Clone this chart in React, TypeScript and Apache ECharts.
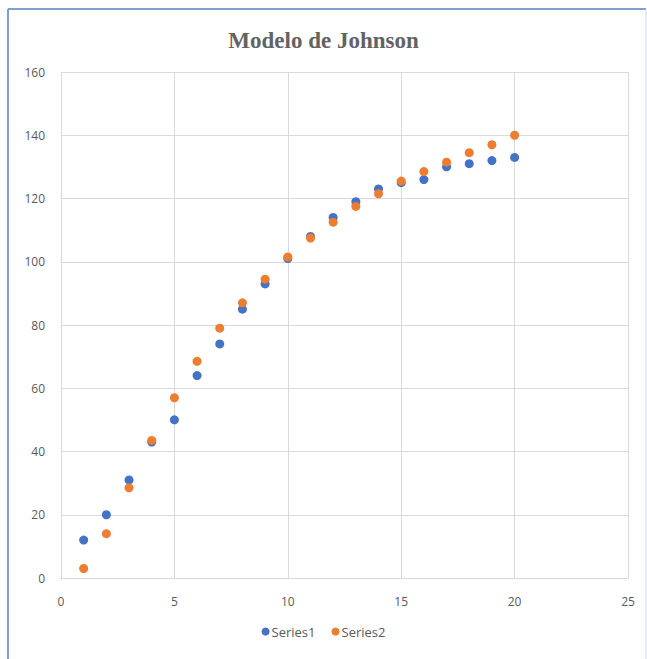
import React, { useEffect, useRef } from "react";
import * as echarts from "echarts";

const titleText = "Modelo de Johnson";
const xValues = [1, 2, 3, 4, 5, 6, 7, 8, 9, 10, 11, 12, 13, 14, 15, 16, 17, 18, 19, 20];
const series1 = [12, 20, 31, 43, 50, 64, 74, 85, 93, 101, 108, 114, 119, 123, 125, 126, 130, 131, 132, 133];
const series2 = [3, 14, 28.5, 43.5, 57, 68.5, 79, 87, 94.5, 101.5, 107.5, 112.5, 117.5, 121.5, 125.5, 128.5, 131.5, 134.5, 137, 140];
const seriesNames = ["Series1", "Series2"];

export default function App() {
  const ref = useRef<HTMLDivElement>(null);
  useEffect(() => {
    if (!ref.current) return;
    const chart = echarts.init(ref.current, null, { renderer: "svg" });
    const labelFont = "'Liberation Sans Narrow', 'Open Sans', sans-serif";
    chart.setOption({
      animation: false,
      backgroundColor: "#ffffff",
      title: {
        text: titleText,
        left: "center",
        top: 24,
        textStyle: {
          fontFamily: "'Liberation Serif', serif",
          fontWeight: "bold",
          fontSize: 23,
          color: "#636363",
        },
      },
      legend: {
        bottom: 16,
        left: "center",
        icon: "circle",
        itemWidth: 8,
        itemHeight: 8,
        itemGap: 16,
        textStyle: { fontFamily: labelFont, fontSize: 13, color: "#595959", padding: [0, 0, 0, -3] },
        data: seriesNames,
      },
      grid: { left: 61, right: 19, top: 72, bottom: 81, containLabel: false },
      xAxis: {
        type: "value",
        min: 0,
        max: 25,
        interval: 5,
        axisLine: { show: true, lineStyle: { color: "#d9d9d9", width: 1 } },
        axisTick: { show: false },
        splitLine: { show: true, lineStyle: { color: "#d9d9d9", width: 1 } },
        axisLabel: { margin: 17, fontFamily: labelFont, fontSize: 12, color: "#595959" },
      },
      yAxis: {
        type: "value",
        min: 0,
        max: 160,
        interval: 20,
        axisLine: { show: false },
        axisTick: { show: false },
        splitLine: { show: true, lineStyle: { color: "#d9d9d9", width: 1 } },
        axisLabel: { margin: 16, fontFamily: labelFont, fontSize: 12, color: "#595959" },
      },
      graphic: [
        { type: "line", shape: { x1: 8, y1: 9, x2: 646, y2: 9 }, style: { stroke: "#7f9fd0", lineWidth: 2 } },
        { type: "line", shape: { x1: 8, y1: 9, x2: 8, y2: 659 }, style: { stroke: "#7f9fd0", lineWidth: 2 } },
        { type: "line", shape: { x1: 646, y1: 9, x2: 646, y2: 659 }, style: { stroke: "#c9d6ea", lineWidth: 1 } },
      ],
      series: [
        {
          name: seriesNames[0],
          type: "scatter",
          symbol: "circle",
          symbolSize: 9,
          itemStyle: { color: "#4472C4", opacity: 1 },
          data: xValues.map((x, i) => [x, series1[i]]),
        },
        {
          name: seriesNames[1],
          type: "scatter",
          symbol: "circle",
          symbolSize: 9,
          itemStyle: { color: "#ED7D31", opacity: 1 },
          data: xValues.map((x, i) => [x, series2[i]]),
        },
      ],
    });
    return () => chart.dispose();
  }, []);
  return (
    <div
      ref={ref}
      style={{ position: "fixed", left: 0, top: 0, width: 647, height: 659 }}
    />
  );
}
